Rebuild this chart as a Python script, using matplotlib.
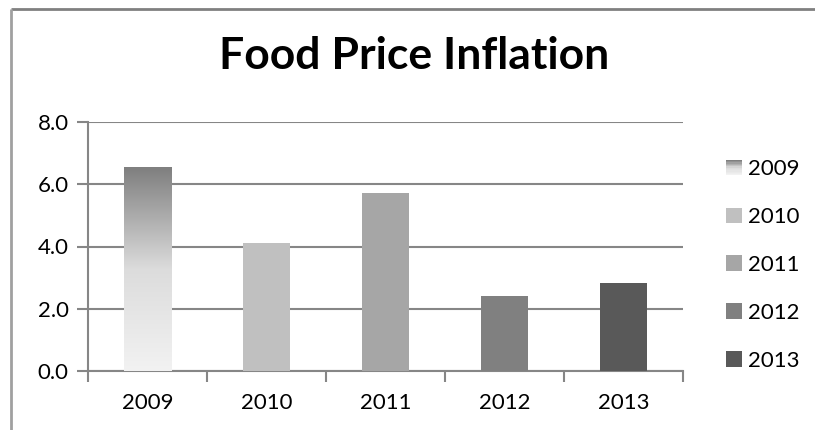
import numpy as np
import matplotlib.pyplot as plt
from matplotlib.patches import Rectangle
from matplotlib.legend_handler import HandlerBase
from matplotlib.colors import LinearSegmentedColormap

plt.rcParams['font.family'] = ['Lato', 'DejaVu Sans']

years = ["2009", "2010", "2011", "2012", "2013"]
inflation = [6.55, 4.1, 5.72, 2.41, 2.83]
colors = ["#a0a0a0", "#c0c0c0", "#a6a6a6", "#808080", "#595959"]
yticks = [0.0, 2.0, 4.0, 6.0, 8.0]

grid_col = "#868686"
grad = LinearSegmentedColormap.from_list("g", ["#f2f2f2", "#dcdcdc", "#7f7f7f"])


class GradientHandler(HandlerBase):
    # stacked stripes faking a light-bottom/dark-top gradient in the legend
    def create_artists(self, legend, orig, xd, yd, w, h, fs, trans):
        n = 12
        arts = []
        for i in range(n):
            arts.append(Rectangle((xd, yd + h * i / n), w, h / n + 0.2,
                                  facecolor=grad(i / (n - 1)), edgecolor="none",
                                  transform=trans))
        return arts


fig = plt.figure(figsize=(8.15, 4.3), dpi=100)
ax = fig.add_axes([88 / 815, 1 - 371 / 430, (683 - 88) / 815, (371 - 122) / 430])

x = np.arange(len(years))
bars = ax.bar(x, inflation, width=0.4, color=colors, zorder=3)

# gradient fill for the first bar
b0 = bars[0]
b0.set_facecolor("none")
img = np.linspace(0, 1, 256).reshape(-1, 1)
im = ax.imshow(img, cmap=grad, origin="lower", aspect="auto",
               extent=[b0.get_x(), b0.get_x() + b0.get_width(), 0, b0.get_height()],
               zorder=3)
im.set_clip_path(b0)

ax.set_xlim(-0.5, len(years) - 0.5)
ax.set_ylim(0, 8)
ax.set_yticks(yticks)
ax.set_yticklabels([f"{v:.1f}" for v in yticks], fontsize=16)
ax.set_xticks(x)
ax.set_xticklabels(years, fontsize=16)
ax.set_xticks(np.arange(len(years) + 1) - 0.5, minor=True)
ax.tick_params(axis="x", which="major", length=0, pad=16)
ax.tick_params(axis="x", which="minor", length=8, color=grid_col, width=1.5)
ax.tick_params(axis="y", length=8, color=grid_col, width=1.5, pad=6)
ax.grid(axis="y", color=grid_col, linewidth=1.5, zorder=0)
ax.set_axisbelow(True)
for s in ["top", "right"]:
    ax.spines[s].set_visible(False)
for s in ["left", "bottom"]:
    ax.spines[s].set_color(grid_col)
    ax.spines[s].set_linewidth(1.5)

fig.text(414 / 815, 1 - 56 / 430, "Food Price Inflation", ha="center", va="center",
         fontsize=32, fontweight="bold")

handles = [Rectangle((0, 0), 1, 1, facecolor=c) for c in colors]
handler_map = {handles[0]: GradientHandler()}
fig.legend(handles, years, loc="center left", bbox_to_anchor=(726 / 815, 1 - 265 / 430),
           frameon=False, fontsize=16, handlelength=0.7, handleheight=0.7,
           handletextpad=0.3, labelspacing=1.25, handler_map=handler_map,
           borderpad=0, borderaxespad=0)

# outer chart border (top and left edges visible)
fig.add_artist(plt.Line2D([11 / 815, 1], [1 - 9 / 430, 1 - 9 / 430], color="#808080",
                          lw=2, solid_capstyle="butt"))
fig.add_artist(plt.Line2D([11 / 815, 11 / 815], [0, 1 - 9 / 430], color="#a0a0a0",
                          lw=2, solid_capstyle="butt"))

fig.savefig("out.png", dpi=100)
